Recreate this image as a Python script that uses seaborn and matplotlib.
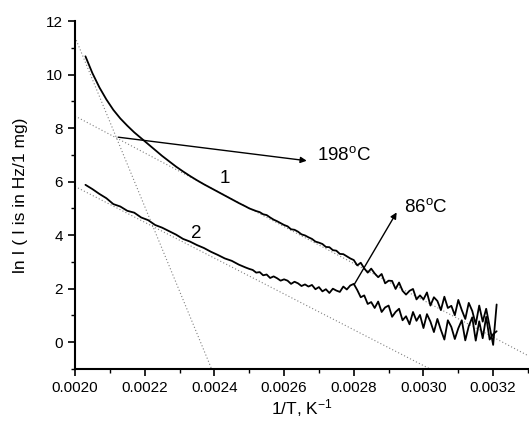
import numpy as np
import pandas as pd
import matplotlib
matplotlib.use("Agg")
import matplotlib.pyplot as plt
import seaborn as sns
from matplotlib.ticker import MultipleLocator, FormatStrFormatter

# 1/T in units of 1e-5 K^-1 (coarse where the curves are smooth)
x_e5 = [203, 205, 207, 209, 211, 213, 215, 217, 219, 221, 223, 225,
        227, 229, 231, 233, 235, 237, 239, 241, 243, 245, 247, 249,
        250, 251, 252, 253, 254, 255, 256, 257, 258, 259,
        260, 261, 262, 263, 264, 265, 266, 267, 268, 269,
        270, 271, 272, 273, 274, 275, 276, 277, 278, 279,
        280, 281, 282, 283, 284, 285, 286, 287, 288, 289,
        290, 291, 292, 293, 294, 295, 296, 297, 298, 299,
        300, 301, 302, 303, 304, 305, 306, 307, 308, 309,
        310, 311, 312, 313, 314, 315, 316, 317, 318, 319,
        320, 321]

# curve 1
ln_i_1 = [10.68, 10.05, 9.52, 9.07, 8.68, 8.36, 8.09, 7.84, 7.62, 7.40, 7.18, 6.96,
          6.76, 6.56, 6.38, 6.21, 6.05, 5.90, 5.76, 5.62, 5.48, 5.34, 5.20, 5.07,
          5.00, 4.95, 4.90, 4.86, 4.78, 4.75, 4.66, 4.58, 4.52, 4.45,
          4.38, 4.33, 4.22, 4.20, 4.13, 4.03, 3.99, 3.92, 3.86, 3.76,
          3.72, 3.67, 3.56, 3.55, 3.44, 3.42, 3.30, 3.29, 3.21, 3.13,
          3.07, 2.87, 2.97, 2.76, 2.60, 2.75, 2.57, 2.43, 2.55, 2.20,
          2.30, 2.29, 1.99, 2.23, 1.92, 1.78, 1.92, 1.99, 1.60, 1.75,
          1.60, 1.86, 1.37, 1.68, 1.54, 1.20, 1.70, 1.28, 1.36, 1.01,
          1.58, 1.20, 0.87, 1.47, 1.17, 0.67, 1.37, 0.77, 1.25, 0.58,
          -0.10, 1.41]

# curve 2
ln_i_2 = [5.88, 5.72, 5.54, 5.38, 5.16, 5.07, 4.91, 4.84, 4.66, 4.56, 4.38, 4.28,
          4.15, 4.02, 3.86, 3.76, 3.63, 3.52, 3.38, 3.26, 3.13, 3.04, 2.90, 2.79,
          2.74, 2.70, 2.60, 2.62, 2.50, 2.53, 2.40, 2.46, 2.39, 2.30,
          2.35, 2.30, 2.18, 2.26, 2.20, 2.10, 2.16, 2.08, 2.14, 1.98,
          2.06, 1.90, 1.98, 1.84, 2.00, 1.93, 1.88, 2.08, 1.97, 2.12,
          2.18, 1.95, 1.68, 1.75, 1.43, 1.50, 1.28, 1.52, 1.13, 1.30,
          1.37, 0.95, 1.13, 1.25, 0.82, 0.97, 0.67, 1.13, 0.80, 1.02,
          0.53, 1.05, 0.77, 0.38, 0.87, 0.46, 0.10, 0.82, 0.57, 0.12,
          0.52, 0.82, 0.07, 0.60, 0.93, 0.06, 0.78, 0.15, 0.95, 0.10,
          0.30, 0.41]

# dotted straight-line fits (end points)
fit_x = [[0.0020, 0.002392], [0.0020, 0.0033], [0.0020, 0.003019]]
fit_y = [[11.4, -1.0], [8.45, -0.5], [5.82, -1.0]]

# annotation arrows: (from, to)
arrow_198 = ((0.002124, 7.66), (0.002665, 6.78))
arrow_86 = ((0.002801, 2.15), (0.002923, 4.85))

x = np.array(x_e5) * 1e-5
df = pd.DataFrame({"x": np.concatenate([x, x]),
                   "y": ln_i_1 + ln_i_2,
                   "curve": ["1"] * len(x) + ["2"] * len(x)})

sns.set_style("ticks")
plt.rcParams["font.family"] = ["Liberation Sans", "DejaVu Sans"]
plt.rcParams["mathtext.fontset"] = "custom"
plt.rcParams["mathtext.rm"] = "Liberation Sans"
plt.rcParams["mathtext.it"] = "Liberation Sans:italic"
plt.rcParams["text.color"] = "black"
plt.rcParams["axes.labelcolor"] = "black"

fig = plt.figure(figsize=(5.29, 4.23), dpi=100)
ax = fig.add_axes([75 / 529, 54 / 423, 453 / 529, 348 / 423])

for fx, fy in zip(fit_x, fit_y):
    ax.plot(fx, fy, color="#808080", ls=(0, (1, 2)), lw=0.8)

sns.lineplot(data=df, x="x", y="y", units="curve", estimator=None, sort=False,
             color="black", lw=1.3, ax=ax)

for (p0, p1) in (arrow_198, arrow_86):
    ax.annotate("", xy=p1, xytext=p0,
                arrowprops=dict(arrowstyle="-|>", color="black", lw=1.0,
                                mutation_scale=9, shrinkA=0, shrinkB=0))

ax.text(0.002694, 7.0, "198$^{\\rm o}$C", fontsize=13.5, va="center", ha="left")
ax.text(0.002943, 5.05, "86$^{\\rm o}$C", fontsize=13.5, va="center", ha="left")
ax.text(0.002431, 6.1, "1", fontsize=13.5, va="center", ha="center")
ax.text(0.002347, 4.08, "2", fontsize=13.5, va="center", ha="center")

ax.set_xlim(0.0020, 0.0033)
ax.set_ylim(-1, 12)
ax.xaxis.set_major_locator(MultipleLocator(0.0002))
ax.xaxis.set_minor_locator(MultipleLocator(0.0001))
ax.xaxis.set_major_formatter(FormatStrFormatter("%.4f"))
ax.yaxis.set_major_locator(MultipleLocator(2))
ax.yaxis.set_minor_locator(MultipleLocator(1))
ax.tick_params(which="major", direction="out", length=5, width=1.2, labelsize=11, colors="black")
ax.tick_params(which="minor", direction="out", length=3, width=1.0, colors="black")

sns.despine(ax=ax)
for s in ("left", "bottom"):
    ax.spines[s].set_linewidth(1.5)
    ax.spines[s].set_color("black")

ax.set_xlabel("1/T, K$^{-1}$", fontsize=12.5, labelpad=2)
ax.set_ylabel("ln I ( I is in Hz/1 mg)", fontsize=12.5, labelpad=13)

fig.savefig("out.png", dpi=100)
